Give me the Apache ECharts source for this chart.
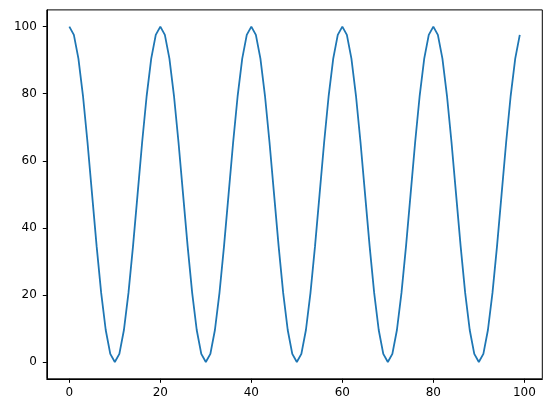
<!DOCTYPE html>
<html>
<head>
<meta charset="utf-8">
<script src="https://cdn.jsdelivr.net/npm/echarts@6/dist/echarts.min.js"></script>
<style>html,body{margin:0;padding:0;background:#fff;}#c{width:552px;height:413px;}</style>
</head>
<body>
<div id="c"></div>
<script>
const yValues = [
  100, 97.55, 90.45, 79.39, 65.45, 50, 34.55, 20.61, 9.55, 2.45, 0, 2.45, 9.55, 20.61, 34.55, 50, 65.45, 79.39, 90.45, 97.55,
  100, 97.55, 90.45, 79.39, 65.45, 50, 34.55, 20.61, 9.55, 2.45, 0, 2.45, 9.55, 20.61, 34.55, 50, 65.45, 79.39, 90.45, 97.55,
  100, 97.55, 90.45, 79.39, 65.45, 50, 34.55, 20.61, 9.55, 2.45, 0, 2.45, 9.55, 20.61, 34.55, 50, 65.45, 79.39, 90.45, 97.55,
  100, 97.55, 90.45, 79.39, 65.45, 50, 34.55, 20.61, 9.55, 2.45, 0, 2.45, 9.55, 20.61, 34.55, 50, 65.45, 79.39, 90.45, 97.55,
  100, 97.55, 90.45, 79.39, 65.45, 50, 34.55, 20.61, 9.55, 2.45, 0, 2.45, 9.55, 20.61, 34.55, 50, 65.45, 79.39, 90.45, 97.55
];
const xTicks = [0, 20, 40, 60, 80, 100];
const yTicks = [0, 20, 40, 60, 80, 100];

const points = yValues.map((v, i) => [i, v]);
const chart = echarts.init(document.getElementById('c'), null, {renderer: 'canvas'});
const font = {fontFamily: 'DejaVu Sans', fontSize: 12, color: '#000'};
const line = {show: true, onZero: false, lineStyle: {color: '#000', width: 1}};
chart.setOption({
  animation: false,
  backgroundColor: '#fff',
  grid: {left: 46.8, top: 9.9, width: 495.5, height: 368.9, show: true, borderColor: '#000', borderWidth: 1, backgroundColor: 'transparent'},
  xAxis: {
    type: 'value', min: -4.95, max: 103.95,
    axisLine: line,
    splitLine: {show: false},
    axisTick: {show: true, inside: false, length: 4, lineStyle: {color: '#000', width: 1}, customValues: xTicks},
    axisLabel: Object.assign({margin: 8, customValues: xTicks}, font)
  },
  yAxis: {
    type: 'value', min: -5, max: 105,
    axisLine: line,
    splitLine: {show: false},
    axisTick: {show: true, inside: false, length: 4, lineStyle: {color: '#000', width: 1}, customValues: yTicks},
    axisLabel: Object.assign({margin: 10, customValues: yTicks}, font)
  },
  series: [{
    type: 'line', data: points, showSymbol: false,
    lineStyle: {color: '#1f77b4', width: 1.8},
    itemStyle: {color: '#1f77b4'}
  }]
});
</script>
</body>
</html>
